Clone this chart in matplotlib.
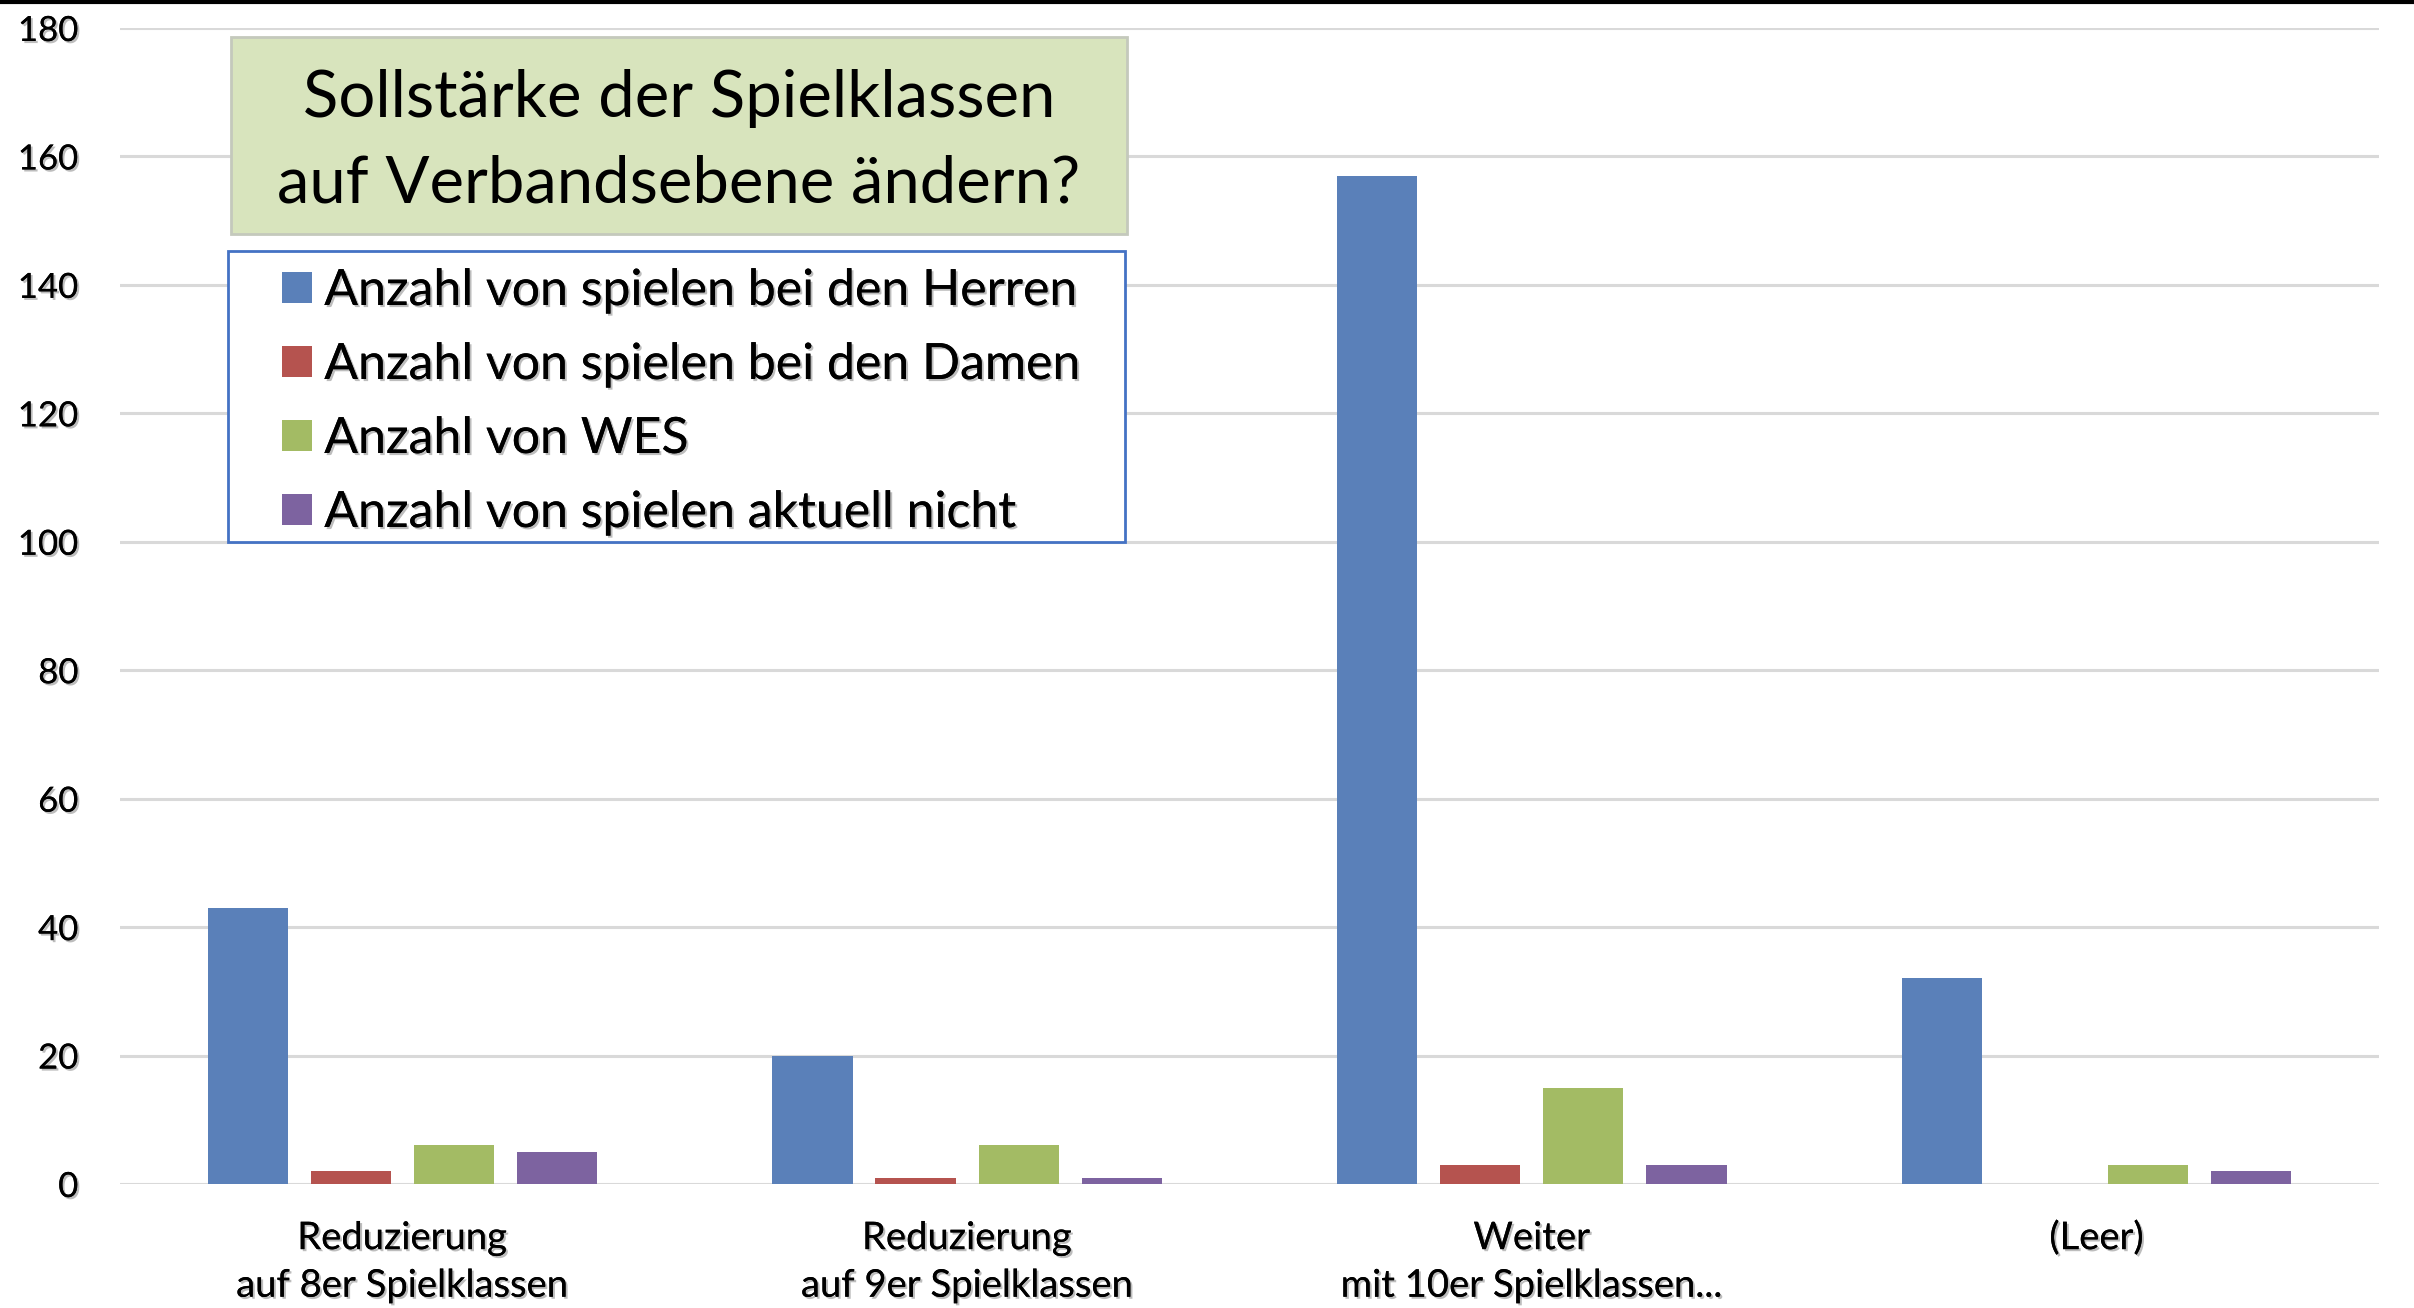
import numpy as np
import matplotlib
matplotlib.use("Agg")
import matplotlib.pyplot as plt
import matplotlib.patheffects as pe
from matplotlib.patches import Rectangle
from matplotlib.lines import Line2D

categories = ["Reduzierung\nauf 8er Spielklassen", "Reduzierung\nauf 9er Spielklassen",
              "Weiter\nmit 10er Spielklassen...", "(Leer)"]
series_names = ["Anzahl von spielen bei den Herren", "Anzahl von spielen bei den Damen",
                "Anzahl von WES", "Anzahl von spielen aktuell nicht"]
herren = [43, 20, 157, 32]
damen = [2, 1, 3, 0]
wes = [6, 6, 15, 3]
aktuell_nicht = [5, 1, 3, 2]
colors = ["#5a80b9", "#b5534f", "#a3bb64", "#7d63a0"]
title_lines = ["Sollstärke der Spielklassen", "auf Verbandsebene ändern?"]

plt.rcParams['font.family'] = ['Lato', 'DejaVu Sans']
shadow = [pe.withSimplePatchShadow(offset=(1.5, -1.5), shadow_rgbFace="#888888", alpha=0.55), pe.Normal()]

fig = plt.figure(figsize=(24.14, 13.08), dpi=100)
ax = fig.add_axes([0.0497, 0.0948, 0.9358, 0.8838])

x = np.arange(len(categories))
pitch = 0.1825
width = 0.142
bars = []
for i, (vals, col, name) in enumerate(zip([herren, damen, wes, aktuell_nicht], colors, series_names)):
    b = ax.bar(x + (i - 1.5) * pitch, vals, width, color=col, label=name, zorder=3)
    bars.append(b)

ax.set_xlim(-0.5, 3.5)
ax.set_ylim(0, 180)
ax.set_yticks(range(0, 181, 20))
ax.set_xticks(x)
ax.set_xticklabels(categories, fontsize=27.5, linespacing=1.4)
ax.tick_params(axis='both', length=0)
ax.tick_params(axis='y', pad=30, labelsize=25)
ax.tick_params(axis='x', pad=26)
for lab in ax.get_xticklabels() + ax.get_yticklabels():
    lab.set_path_effects(shadow)
ax.grid(axis='y', color='#d9d9d9', linewidth=2.2, zorder=0)
for s in ax.spines.values():
    s.set_visible(False)

# title box
fig.patches.append(Rectangle((0.0957, 0.8211), 0.3712, 0.1506, transform=fig.transFigure,
                             facecolor="#d8e4bd", edgecolor="#c4c9bc", linewidth=2, zorder=5))
fig.text(0.2813, 0.9245, title_lines[0], ha='center', va='center', fontsize=47, zorder=6)
fig.text(0.2813, 0.8595, title_lines[1], ha='center', va='center', fontsize=47, zorder=6)

# legend frame drawn separately so the entries can sit further in from the left
fig.patches.append(Rectangle((0.0944, 0.5856), 0.3716, 0.2225, transform=fig.transFigure,
                             facecolor="white", edgecolor="#4472c4", linewidth=2, zorder=5))
leg = fig.legend(handles=bars, labels=series_names, loc='upper left',
                 bbox_to_anchor=(0.1167, 0.7951), borderaxespad=0, borderpad=0,
                 fontsize=36, handlelength=0.6, handleheight=0.6,
                 handletextpad=0.25, labelspacing=0.56, frameon=False)
leg.set_zorder(6)
for t in leg.get_texts():
    t.set_path_effects(shadow)

fig.add_artist(Line2D([0, 1], [0.9985, 0.9985], color='black', linewidth=3, transform=fig.transFigure))

fig.savefig("out.png", dpi=100)
